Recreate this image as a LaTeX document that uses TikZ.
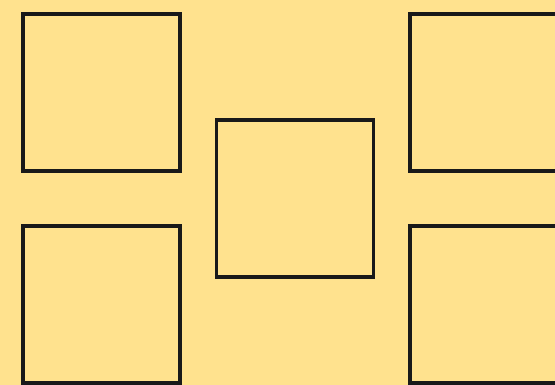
\documentclass[tikz,border=0pt]{standalone}
\usepackage{tikz}
\usetikzlibrary{positioning}
\definecolor{sand}{HTML}{FFE28E}

\begin{document}
\begin{tikzpicture}[x=1pt,y=-1pt,
  tile/.style={draw=black!90,line width=3.3pt,minimum size=157pt,inner sep=0pt,outer sep=0pt}]
\fill[sand] (0,0) rectangle (555,385);
\useasboundingbox (0,0) rectangle (555,385);
\clip (0,0) rectangle (555,385);
\node[tile] (tl) at (101.5,92.5) {};
\node[tile] (bl) at (101.5,304.5) {};
\node[tile] (mid) at (295,198.5) {};
\node[tile] (tr) at (488.5,92.5) {};
\node[tile] (br) at (488.5,304.5) {};
\end{tikzpicture}
\end{document}
